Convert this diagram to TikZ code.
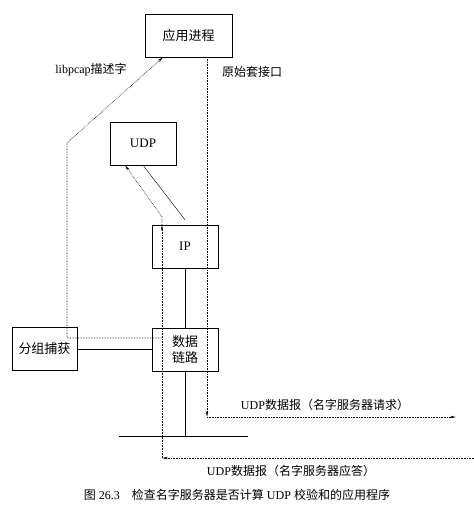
\documentclass[tikz,border=0pt]{standalone}
\usepackage{fontspec}
\setmainfont{Liberation Serif}
\newfontfamily\cjk{Noto Sans CJK SC}
\usetikzlibrary{arrows.meta}

\tikzset{every picture/.append style={x=1pt, y=-1pt}}
\tikzset{
  box/.style={draw, thin, minimum width=66pt, minimum height=43pt, inner sep=0pt, font=\fontsize{13}{16}\selectfont},
  dotline/.style={densely dotted, line width=0.6pt},
  tip/.style={-{Stealth[length=6pt, width=2.4pt]}},
  lbl/.style={inner sep=0pt, font=\fontsize{12}{14}\selectfont}
}

\begin{document}
\begin{tikzpicture}
  \useasboundingbox (0,0) rectangle (474,512);
  \node[box, minimum width=87pt] (app) at(188.5,35.5){\cjk 应用进程};
  \node[box] (udp) at(143,143.5){UDP};
  \node[box] (ip) at(185,246.5){IP};
  \node[box, align=center] (link) at(185,349.5){\cjk 数据\\\cjk 链路};
  \node[box, minimum width=65pt] (cap) at(44.5,349){\cjk 分组捕获};
  \coordinate (busL) at(119,436);
  \coordinate (busR) at(248,436);
  \coordinate (tap) at(162,338);
  \coordinate (bend) at(67,143);
  \coordinate (reqturn) at(207,417);
  \coordinate (reqout) at(456,417);
  \coordinate (repin) at(474,458);
  \coordinate (repturn) at(162,458);
  \draw[thick] (busL) -- (busR);
  \draw (link.south) -- (link.south |- busL);
  \draw (ip.south) -- (link.north);
  \draw (cap.east) -- (cap.east -| link.west);
  \draw (udp.south) -- ([yshift=5pt]ip.north);
  \draw[dotline, tip] (tap) -| (bend) -- ([xshift=-25.5pt]app.south);
  \draw[dotline, tip] ([xshift=18.5pt]app.south) -- (reqturn);
  \draw[dotline, tip] (reqturn) -- (reqout);
  \draw[dotline, tip] (repin) -- (repturn);
  \draw[dotline, tip] (repturn) -- ([xshift=-23pt]ip.north);
  \draw[dotline, tip] ([xshift=-23pt]ip.north) -- ++(0,-8) -- ([xshift=-18pt]udp.south);
  \node[lbl] (pcaplbl) at(91,70){libpcap{\cjk 描述字}};
  \node[lbl] (rawlbl) at(252,72){\cjk 原始套接口};
  \node[lbl] (reqlbl) at(325,405){UDP{\cjk 数据报（名字服务器请求）}};
  \node[lbl] (replbl) at(291,471){UDP{\cjk 数据报（名字服务器应答）}};
  \node[lbl] (caption) at(237,495){{\cjk 图}~26.3\quad{\cjk 检查名字服务器是否计算}~UDP~{\cjk 校验和的应用程序}};
\end{tikzpicture}
\end{document}
